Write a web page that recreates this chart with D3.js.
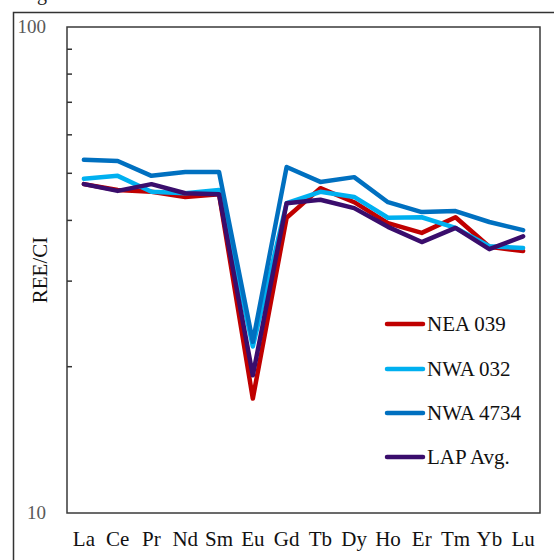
<!DOCTYPE html>
<html>
<head>
<meta charset="utf-8">
<script src="https://cdn.jsdelivr.net/npm/d3@7"></script>
<style>
  body { margin: 0; background: #fff; }
  svg { display: block; font-family: "Liberation Serif", "Times New Roman", serif; }
</style>
</head>
<body>
<svg id="chart" width="554" height="560"></svg>
<script>
// ---------- data ----------
const elements = ["La", "Ce", "Pr", "Nd", "Sm", "Eu", "Gd", "Tb", "Dy", "Ho", "Er", "Tm", "Yb", "Lu"];

const nea039  = [47.5, 46.2, 45.8, 44.7, 45.3, 17.2, 40.5, 46.6, 43.6, 39.5, 37.7, 40.6, 35.3, 34.6];
const nwa032  = [48.7, 49.4, 45.8, 45.5, 46.2, 22.0, 43.4, 45.8, 44.7, 40.5, 40.6, 38.6, 35.4, 35.1];
const nwa4734 = [53.3, 53.0, 49.4, 50.3, 50.3, 22.5, 51.5, 48.0, 49.1, 43.6, 41.6, 41.8, 39.7, 38.2];
const lapAvg  = [47.5, 46.0, 47.5, 45.5, 45.3, 19.2, 43.4, 44.1, 42.4, 38.8, 36.1, 38.6, 34.9, 37.1];

const seriesNames = ["NEA 039", "NWA 032", "NWA 4734", "LAP Avg."];
const seriesValues = [nea039, nwa032, nwa4734, lapAvg];
const seriesColors = ["#c00000", "#00b0f0", "#0070c0", "#3a0d6c"];

const yDomain = [10, 100];
const yLabels = [10, 100];
const minorTicks = [20, 30, 40, 50, 60, 70, 80, 90];

// ---------- layout ----------
const svg = d3.select("#chart");
const plot = { left: 67, right: 540, top: 27, bottom: 513 };

const x = d3.scalePoint().domain(elements).range([plot.left, plot.right]).padding(0.5);
const y = d3.scaleLog().domain(yDomain).range([plot.bottom, plot.top]);

// caption descender cut off at the top
svg.append("text").attr("x", 37).attr("y", 0)
  .attr("font-size", 20).attr("fill", "#222").text("g");

// outer frame
svg.append("rect")
  .attr("x", 13.5).attr("y", 12.5)
  .attr("width", 560).attr("height", 560)
  .attr("fill", "none").attr("stroke", "#333").attr("stroke-width", 1.5);

// plot frame
svg.append("rect")
  .attr("x", plot.left).attr("y", plot.top)
  .attr("width", plot.right - plot.left).attr("height", plot.bottom - plot.top)
  .attr("fill", "none").attr("stroke", "#3a3a3a").attr("stroke-width", 1.5);

// minor ticks on the log axis (inside)
svg.append("g").selectAll("line")
  .data(minorTicks)
  .join("line")
  .attr("x1", plot.left).attr("x2", plot.left + 5)
  .attr("y1", (d) => y(d)).attr("y2", (d) => y(d))
  .attr("stroke", "#333").attr("stroke-width", 1.5);

// y labels
svg.append("g").selectAll("text")
  .data(yLabels)
  .join("text")
  .attr("x", 46).attr("y", (d) => y(d) + 6)
  .attr("text-anchor", "end")
  .attr("font-size", 19).attr("fill", "#595959")
  .text((d) => d);

svg.append("text")
  .attr("transform", `translate(47,270) rotate(-90)`)
  .attr("text-anchor", "middle")
  .attr("font-size", 21).attr("fill", "#111")
  .text("REE/CI");

// x labels
svg.append("g").selectAll("text")
  .data(elements)
  .join("text")
  .attr("x", (d) => x(d)).attr("y", 546)
  .attr("text-anchor", "middle")
  .attr("font-size", 21).attr("fill", "#111")
  .text((d) => d);

// series lines
const line = d3.line()
  .x((d, i) => x(elements[i]))
  .y((d) => y(d));

svg.append("g").selectAll("path")
  .data(seriesValues)
  .join("path")
  .attr("d", line)
  .attr("fill", "none")
  .attr("stroke", (d, i) => seriesColors[i])
  .attr("stroke-width", 4.5)
  .attr("stroke-linejoin", "round")
  .attr("stroke-linecap", "round");

// legend
const legendY = [324, 369, 413, 457];
const legend = svg.append("g").selectAll("g")
  .data(seriesNames)
  .join("g")
  .attr("transform", (d, i) => `translate(387,${legendY[i]})`);

legend.append("line")
  .attr("x1", 0).attr("x2", 36)
  .attr("stroke", (d, i) => seriesColors[i])
  .attr("stroke-width", 4.5)
  .attr("stroke-linecap", "round");

legend.append("text")
  .attr("x", 40).attr("y", 7)
  .attr("font-size", 21).attr("fill", "#111")
  .text((d) => d);
</script>
</body>
</html>
